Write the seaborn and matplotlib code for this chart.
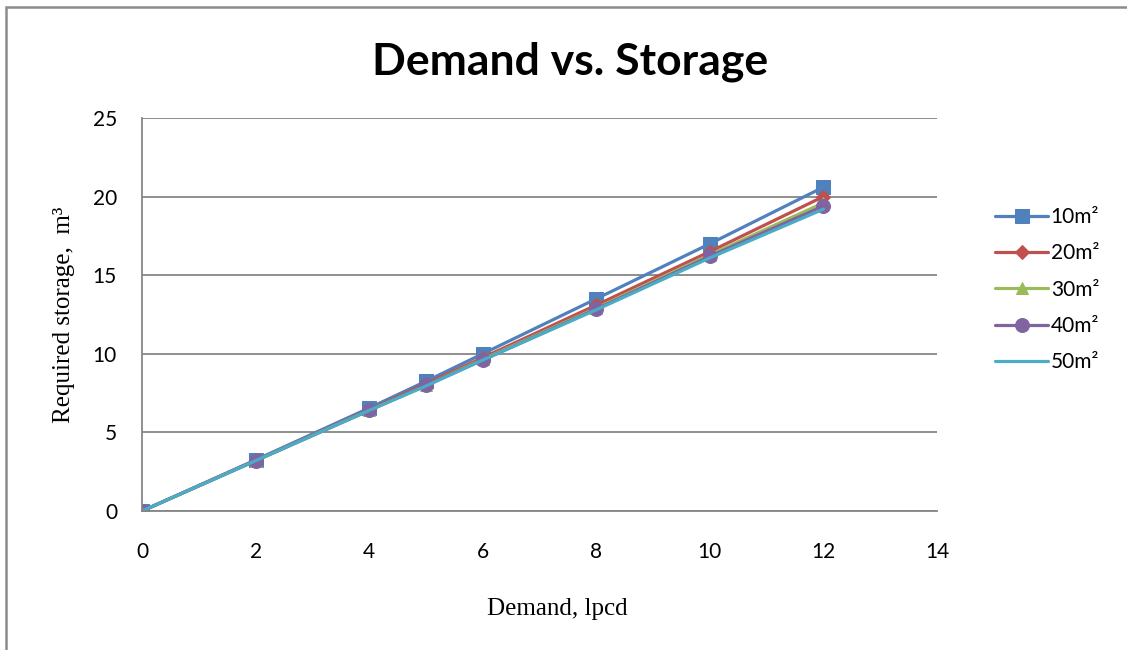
import matplotlib
matplotlib.use("Agg")
import matplotlib.pyplot as plt
from matplotlib.patches import Rectangle
import seaborn as sns
import pandas as pd

# Demand (lpcd) and required storage (m³) for each roof catchment area
demand = [0, 2, 4, 5, 6, 8, 10, 12]
storage_10 = [0, 3.25, 6.55, 8.25, 10.0, 13.5, 17.0, 20.6]
storage_20 = [0, 3.22, 6.45, 8.10, 9.75, 13.1, 16.5, 20.0]
storage_30 = [0, 3.20, 6.40, 8.00, 9.65, 12.9, 16.3, 19.6]
storage_40 = [0, 3.20, 6.40, 8.00, 9.60, 12.85, 16.2, 19.4]
storage_50 = [0, 3.20, 6.40, 7.95, 9.60, 12.8, 16.1, 19.2]
areas = ["10m²", "20m²", "30m²", "40m²", "50m²"]

series = [storage_10, storage_20, storage_30, storage_40, storage_50]
colors = ["#4F81BD", "#C0504D", "#9BBB59", "#8064A2", "#4BACC6"]
markers = ["s", "D", "^", "o", None]
msizes = [10, 7.5, 9, 10, 0]

sns.set_theme(style="white")
plt.rcParams["font.family"] = ["Lato", "DejaVu Sans"]
plt.rcParams["text.color"] = "black"

fig = plt.figure(figsize=(11.27, 6.5), dpi=100)
ax = fig.add_axes([0.126, 0.2138, 0.7054, 0.6047])

for area, vals, c, m, ms in zip(areas, series, colors, markers, msizes):
    df = pd.DataFrame({"Demand": demand, "Storage": vals})
    kw = dict(marker=m, markersize=ms, markeredgecolor=c, markerfacecolor=c) if m else {}
    sns.lineplot(data=df, x="Demand", y="Storage", ax=ax, color=c, linewidth=2.3,
                 label=area, sort=False, **kw)

ax.set_xlim(0, 14)
ax.set_ylim(0, 25)
ax.set_xticks(range(0, 15, 2))
ax.set_yticks(range(0, 26, 5))
ax.tick_params(axis="both", labelsize=15, length=0, colors="black")
ax.tick_params(axis="x", pad=22)
ax.tick_params(axis="y", pad=18)
ax.yaxis.grid(True, color="#868686", linewidth=1.3)
ax.xaxis.grid(False)
for s in ["top", "right"]:
    ax.spines[s].set_visible(False)
for s in ["left", "bottom"]:
    ax.spines[s].set_color("#868686")
    ax.spines[s].set_linewidth(1.3)
ax.set_axisbelow(True)

ax.set_xlabel("Demand, lpcd", family="Liberation Serif", fontsize=18, color="black")
ax.xaxis.set_label_coords(0.523, -0.222)
ax.set_ylabel("Required storage,  m³", family="Liberation Serif", fontsize=18,
              labelpad=13, color="black")

fig.text(0.506, 0.905, "Demand vs. Storage", ha="center", va="center",
         fontsize=32, fontweight="bold", color="black")

leg = ax.legend(loc="center left", bbox_to_anchor=(1.05, 0.563), frameon=False,
                fontsize=15, handlelength=2.5, labelspacing=0.78, handletextpad=0.15)

# Outer chart-area frame
fig.patches.append(Rectangle((0.0055, -0.05), 1.2, 1.0392, transform=fig.transFigure,
                             fill=False, edgecolor="#8c8c8c", linewidth=1.8))

fig.savefig("out.png", dpi=100)
